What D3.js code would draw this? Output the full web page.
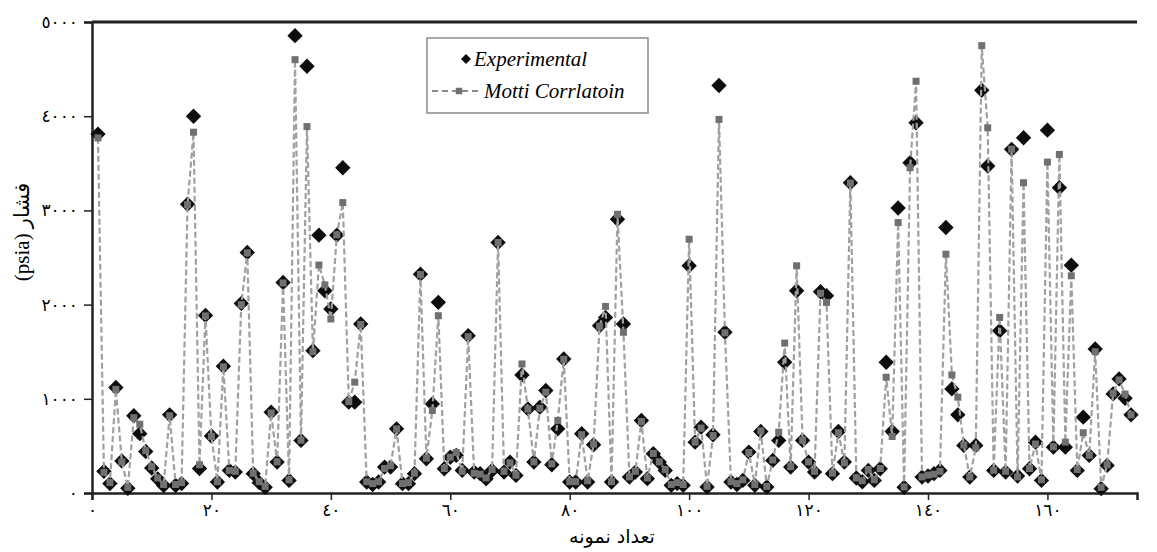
<!DOCTYPE html>
<html>
<head>
<meta charset="utf-8">
<script src="https://cdn.jsdelivr.net/npm/d3@7"></script>
<style>
  body { margin: 0; background: #fff; }
  svg { display: block; }
</style>
</head>
<body>
<div id="container"><svg></svg></div>
<script>
let width = 1157;
let height = 552;

// experimental pressure (psia) for each sample
let experimental = [
  3810, 230, 100, 1120, 340, 50, 820, 630, 440, 265,
  150, 80, 830, 80, 100, 3065, 4000, 260, 1885, 605,
  117, 1345, 240, 222, 2013, 2553, 205, 110, 60, 858,
  328, 2235, 134, 4855, 558, 4530, 1511, 2737, 2147, 1953,
  2737, 3453, 964, 964, 1794, 117, 90, 117, 275, 275,
  681, 99, 99, 205, 2323, 364, 946, 2024, 258, 380,
  400, 240, 1670, 222, 205, 150, 240, 2659, 222, 328,
  187, 1253, 893, 328, 911, 1088, 300, 681, 1423, 117,
  117, 629, 117, 512, 1776, 1864, 117, 2906, 1794, 169,
  222, 770, 152, 417, 328, 240, 81, 100, 81, 2412,
  540, 699, 64, 618, 4326, 1706, 117, 90, 134, 434,
  81, 653, 64, 346, 558, 1388, 275, 2147, 558, 328,
  222, 2136, 2094, 205, 653, 328, 3294, 159, 120, 240,
  134, 258, 1388, 653, 3025, 60, 3506, 3930, 169, 180,
  205, 240, 2818, 1105, 830, 505, 169, 505, 4276, 3471,
  240, 1723, 222, 3648, 180, 3771, 258, 540, 134, 3852,
  487, 3241, 487, 2419, 240, 805, 399, 1529, 46, 293,
  1052, 1211, 1006, 830
];

// Motti correlation
let motti = [
  3770, 220, 110, 1100, 330, 60, 800, 730, 450, 280,
  160, 90, 820, 90, 110, 3060, 3830, 300, 1880, 600,
  120, 1340, 240, 230, 2000, 2550, 210, 120, 70, 850,
  330, 2230, 140, 4600, 560, 3890, 1500, 2420, 2210, 1847,
  2740, 3083, 970, 1176, 1790, 120, 100, 120, 260, 290,
  680, 100, 110, 210, 2320, 370, 876, 1882, 260, 380,
  430, 230, 1660, 210, 200, 160, 250, 2660, 230, 320,
  190, 1370, 890, 330, 900, 1070, 310, 770, 1420, 120,
  120, 620, 130, 520, 1770, 1981, 120, 2959, 1706, 170,
  230, 760, 160, 420, 330, 250, 90, 110, 90, 2694,
  540, 690, 70, 610, 3966, 1700, 120, 100, 140, 430,
  90, 660, 70, 350, 646, 1592, 280, 2412, 560, 330,
  230, 2120, 2023, 210, 640, 320, 3290, 160, 130, 250,
  140, 260, 1229, 600, 2871, 64, 3453, 4371, 170, 190,
  200, 230, 2535, 1253, 1017, 510, 170, 480, 4749, 3877,
  240, 1864, 230, 3650, 170, 3294, 260, 520, 140, 3513,
  490, 3594, 540, 2306, 250, 640, 400, 1500, 60, 300,
  1060, 1200, 1050, 830
];

let xTicks = [0, 20, 40, 60, 80, 100, 120, 140, 160];
let yTicks = [0, 1000, 2000, 3000, 4000, 5000];

let seriesNames = ["Experimental", "Motti Corrlatoin"];
let xTitle = "تعداد نمونه";
let yTitle = "(psia) فشار";

let samples = experimental.map((d, i) => i + 1);

// arabic-indic digits
function fa(n) {
    return String(n).replace(/\d/g, c => "٠١٢٣٤٥٦٧٨٩"[+c]);
}

function draw_chart() {
    let margin = {left: 92, right: 20, top: 22, bottom: 59};
    let svg = d3.select('#container').select('svg')
        .attr('width', width)
        .attr('height', height);

    let x = d3.scaleLinear().domain([0, 175]).range([margin.left, width - margin.right]);
    let y = d3.scaleLinear().domain([0, 5000]).range([height - margin.bottom, margin.top]);

    // top frame line
    svg.append("line")
        .attr("x1", x(0)).attr("x2", x(175))
        .attr("y1", y(5000)).attr("y2", y(5000))
        .attr("stroke", "#222").attr("stroke-width", 3);

    // axes
    let yAxis = svg.append("g")
        .attr("transform", `translate(${x(0)},0)`)
        .call(d3.axisLeft(y).tickValues(yTicks).tickSize(8).tickPadding(6).tickFormat(fa));
    let xAxis = svg.append("g")
        .attr("transform", `translate(0,${y(0)})`)
        .call(d3.axisBottom(x).tickValues(xTicks).tickSize(7).tickPadding(4).tickFormat(fa));

    [xAxis, yAxis].forEach(a => {
        a.select(".domain").attr("stroke", "#222").attr("stroke-width", 2.5);
        a.selectAll(".tick line").attr("stroke", "#222").attr("stroke-width", 1.5);
        a.selectAll("text")
            .attr("fill", "#000")
            .style("font-family", "'DejaVu Sans', 'Noto Sans', sans-serif")
            .style("font-size", "17px");
    });

    // experimental diamonds
    let diamond = d3.symbol(d3.symbolSquare, 118);
    svg.append("g")
        .selectAll("path")
        .data(experimental)
        .join("path")
        .attr("d", diamond)
        .attr("transform", (d, i) => `translate(${x(samples[i])},${y(d)}) rotate(45)`)
        .attr("fill", "#0d0d0d");

    // motti dashed line
    let line = d3.line()
        .x((d, i) => x(samples[i]))
        .y(d => y(d));
    svg.append("path")
        .datum(motti)
        .attr("d", line)
        .attr("fill", "none")
        .attr("stroke", "#a0a0a0")
        .attr("stroke-width", 2.2)
        .attr("stroke-dasharray", "6,3");

    // motti squares
    let square = d3.symbol(d3.symbolSquare, 49);
    svg.append("g")
        .selectAll("path")
        .data(motti)
        .join("path")
        .attr("d", square)
        .attr("transform", (d, i) => `translate(${x(samples[i])},${y(d)})`)
        .attr("fill", "#707070");

    // legend
    let lg = svg.append("g");
    lg.append("rect")
        .attr("x", 427).attr("y", 38).attr("width", 221).attr("height", 75)
        .attr("fill", "#fff").attr("stroke", "#8a8a8a").attr("stroke-width", 1.5);
    lg.append("path")
        .attr("d", d3.symbol(d3.symbolSquare, 50))
        .attr("transform", "translate(466,59) rotate(45)")
        .attr("fill", "#0d0d0d");
    lg.append("line")
        .attr("x1", 432).attr("x2", 482).attr("y1", 91).attr("y2", 91)
        .attr("stroke", "#8a8a8a").attr("stroke-width", 2).attr("stroke-dasharray", "6,4");
    lg.append("path")
        .attr("d", d3.symbol(d3.symbolSquare, 42))
        .attr("transform", "translate(459,91)")
        .attr("fill", "#707070");
    lg.selectAll("text.leg")
        .data(seriesNames)
        .join("text")
        .attr("class", "leg")
        .attr("x", (d, i) => i == 0 ? 474 : 484)
        .attr("y", (d, i) => i == 0 ? 66 : 98)
        .text(d => d)
        .style("font-family", "'Liberation Serif', serif")
        .style("font-style", "italic")
        .style("font-size", "21px");

    // titles
    svg.append("text")
        .attr("x", 612).attr("y", 543)
        .attr("text-anchor", "middle")
        .style("font-family", "'DejaVu Sans', sans-serif")
        .style("font-size", "19px")
        .text(xTitle);
    svg.append("text")
        .attr("transform", "translate(29,232) rotate(-90)")
        .attr("text-anchor", "middle")
        .style("font-family", "'Liberation Serif', 'DejaVu Sans', serif")
        .style("font-size", "21px")
        .text(yTitle);
}

draw_chart();
</script>
</body>
</html>
